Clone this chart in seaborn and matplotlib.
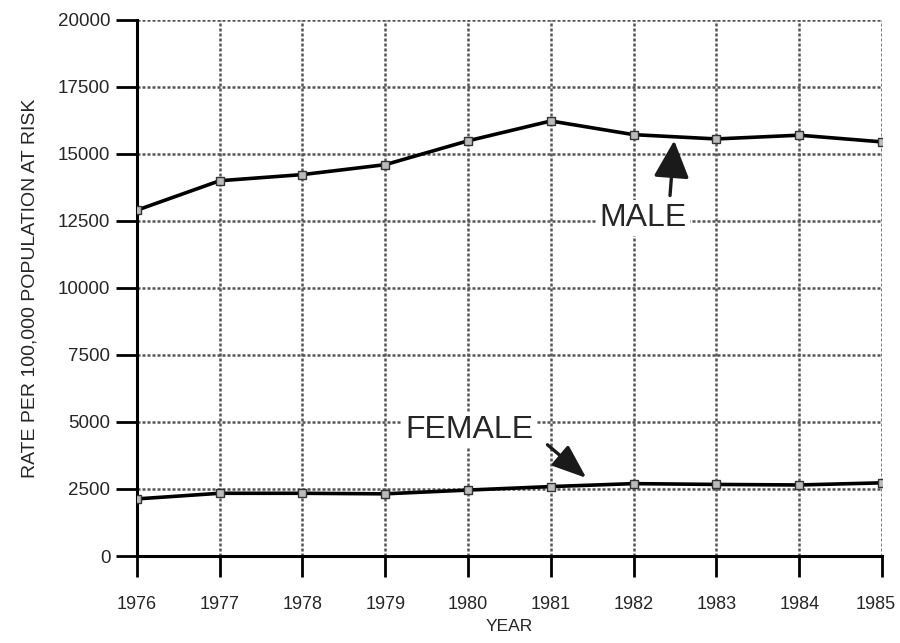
import matplotlib
matplotlib.use("Agg")
import matplotlib.pyplot as plt
import matplotlib.transforms as mtransforms
import seaborn as sns
import pandas as pd

years = [1976, 1977, 1978, 1979, 1980, 1981, 1982, 1983, 1984, 1985]
male = [12900, 14000, 14230, 14600, 15490, 16230, 15720, 15560, 15700, 15450]
female = [2130, 2340, 2340, 2320, 2460, 2590, 2700, 2670, 2650, 2730]
yticks = [0, 2500, 5000, 7500, 10000, 12500, 15000, 17500, 20000]

df = pd.DataFrame({
    "year": years * 2,
    "rate": male + female,
    "sex": ["MALE"] * len(years) + ["FEMALE"] * len(years),
})

sns.set_style("white")
plt.rcParams["font.family"] = ["Liberation Sans", "DejaVu Sans"]

fig = plt.figure(figsize=(9, 6.43), dpi=100)
ax = fig.add_axes([0.152, 0.1353, 0.828, 0.8337])

sns.lineplot(data=df, x="year", y="rate", units="sex", estimator=None,
             color="black", linewidth=2.6, marker="s", markersize=6,
             markerfacecolor="#bbbbbb", markeredgecolor="#333333",
             markeredgewidth=1, ax=ax, zorder=3)

ax.set_xlim(1976, 1985)
ax.set_ylim(0, 20000)
ax.set_xticks(years)
ax.set_yticks(yticks)
ax.set_xticklabels([str(y) for y in years], fontsize=13)
ax.set_yticklabels([str(t) for t in yticks], fontsize=13.5)
ax.grid(True, color="#555555", linewidth=1.8, linestyle=(0, (1.2, 0.8)))
ax.set_axisbelow(True)

for side in ["top", "right"]:
    ax.spines[side].set_visible(False)
ax.spines["left"].set_color("black")
ax.spines["left"].set_linewidth(2.2)
ax.spines["bottom"].set_color("black")
ax.spines["bottom"].set_linewidth(2.2)
ax.tick_params(axis="both", which="major", direction="out", length=15,
               width=2, color="black", bottom=True, left=True, pad=4)
ax.tick_params(axis="x", pad=14)

# keep the last year label inside the figure, as in the reference
last = ax.get_xticklabels()[-1]
last.set_transform(last.get_transform() +
                   mtransforms.ScaledTranslation(-6 / 100, 0, fig.dpi_scale_trans))

ax.set_xlabel("YEAR", fontsize=12.5, labelpad=4)
ax.set_ylabel("RATE PER 100,000 POPULATION AT RISK", fontsize=14, labelpad=14)

box = dict(boxstyle="square,pad=0.1", fc="white", ec="none")
ax.text(1982.11, 12612, "MALE", fontsize=23, ha="center", va="center",
        bbox=box, zorder=4)
ax.text(1980.02, 4701, "FEMALE", fontsize=23, ha="center", va="center",
        bbox=box, zorder=4)

ax.annotate("", xy=(1982.49, 15500), xytext=(1982.44, 13450),
            arrowprops=dict(arrowstyle="-|>,head_length=2.3,head_width=1.1",
                            color="#1a1a1a", lw=2.4, shrinkA=0, shrinkB=0),
            zorder=5)
ax.annotate("", xy=(1981.43, 2910), xytext=(1980.96, 4150),
            arrowprops=dict(arrowstyle="-|>,head_length=2.1,head_width=0.8",
                            color="#1a1a1a", lw=2.4, shrinkA=0, shrinkB=0),
            zorder=5)

fig.savefig("out.png", dpi=100)
